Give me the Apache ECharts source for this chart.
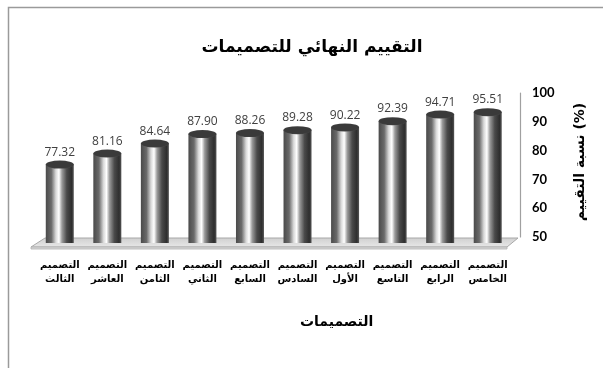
<!DOCTYPE html>
<html><head><meta charset="utf-8">
<script src="https://cdn.jsdelivr.net/npm/echarts@6/dist/echarts.min.js"></script>
<style>html,body{margin:0;padding:0;background:#fff}#c{width:603px;height:368px}</style>
</head><body><div id="c"></div>
<script>
const categories = ['التصميم\nالثالث','التصميم\nالعاشر','التصميم\nالثامن','التصميم\nالثاني','التصميم\nالسابع','التصميم\nالسادس','التصميم\nالأول','التصميم\nالتاسع','التصميم\nالرابع','التصميم\nالخامس'];
const values = [77.32, 81.16, 84.64, 87.90, 88.26, 89.28, 90.22, 92.39, 94.71, 95.51];
const yMin = 50, yMax = 100, yInterval = 10;
const title = 'التقييم النهائي للتصميمات';
const xName = 'التصميمات';
const yName = 'نسبة التقييم (%)';

const chart = echarts.init(document.getElementById('c'), null, {renderer: 'canvas'});
const arabic = '"DejaVu Sans", sans-serif';
const barGrad = new echarts.graphic.LinearGradient(0,0,1,0,[
  {offset:0, color:'#4a4a4a'},
  {offset:0.2, color:'#6a6a6a'},
  {offset:0.36, color:'#d8d8d8'},
  {offset:0.47, color:'#ffffff'},
  {offset:0.58, color:'#9a9a9a'},
  {offset:0.75, color:'#4a4a4a'},
  {offset:0.92, color:'#2e2e2e'},
  {offset:1, color:'#555555'}
]);
const floorGrad = new echarts.graphic.LinearGradient(0,0,0,1,[
  {offset:0, color:'#cfcfcf'},{offset:1, color:'#e8e8e8'}
]);
chart.setOption({
  animation: false,
  title: {
    text: title, left: 307, top: 34, textAlign: 'center',
    textStyle: {fontFamily: arabic, fontSize: 17, fontWeight: 'bold', color: '#000'}
  },
  graphic: [
    {type:'polyline', shape:{points:[[8.5,368],[8.5,7.5],[603,7.5]]}, style:{stroke:'#9a9a9a', lineWidth:1.5, fill:null}, silent:true},
    {type:'polygon', z:0, shape:{points:[[31,247],[507,247],[518,238],[45,238]]}, style:{fill:floorGrad, stroke:'#a8a8a8', lineWidth:1}, silent:true},
    {type:'polygon', z:0, shape:{points:[[31,247],[507,247],[507,249],[31,249]]}, style:{fill:'#d8d8d8', stroke:'#b0b0b0', lineWidth:0.8}, silent:true},
    {type:'text', left: 300, top: 315, style:{text: xName, font:'bold 14px "DejaVu Sans"', fill:'#000', textAlign:'center'}},
    {type:'text', x: 580, y: 162, rotation: Math.PI/2, style:{text: yName, font:'bold 14px "DejaVu Sans"', fill:'#000', textAlign:'center', textVerticalAlign:'middle'}}
  ],
  grid: [
    {left: 36, right: 91.5, top: 99, bottom: 125},
    {left: 36, right: 83, top: 93, bottom: 131}
  ],
  xAxis: [
    {gridIndex:0, type:'category', data: categories,
     axisLine:{show:false}, axisTick:{show:false},
     axisLabel:{margin: 15, fontFamily: arabic, fontWeight:'bold', fontSize: 10, color:'#000', lineHeight: 14, interval:0}},
    {gridIndex:1, type:'category', data: categories, show:false}
  ],
  yAxis: [
    {gridIndex:0, type:'value', min:yMin, max:yMax, interval:yInterval, show:false},
    {gridIndex:1, type:'value', min:yMin, max:yMax, interval:yInterval, position:'right',
     axisLine:{show:true, lineStyle:{color:'#a0a0a0', width:1.2}}, axisTick:{show:false},
     splitLine:{show:false},
     axisLabel:{margin: 12, fontFamily:'Lato, "Open Sans", sans-serif', fontWeight:'bold', fontSize: 13, color:'#000'}}
  ],
  series: [
    {type:'bar', xAxisIndex:0, yAxisIndex:0, data: values, barWidth: 28, z: 2,
     itemStyle:{color: barGrad},
     label:{show:true, position:'top', distance: 6, formatter: p => p.value.toFixed(2),
       fontFamily:'"Open Sans", sans-serif', fontSize: 12, color:'#404040'}},
    {type:'pictorialBar', xAxisIndex:0, yAxisIndex:0, data: values, symbol:'circle', symbolSize:[28,8],
     symbolPosition:'end', symbolOffset:[0,'-50%'], z: 3,
     itemStyle:{color:'#3a3a3a', borderColor:'#e8e8e8', borderWidth:1}},
    {type:'pictorialBar', xAxisIndex:0, yAxisIndex:0, data: values, symbol:'circle', symbolSize:[28,6],
     symbolPosition:'start', symbolOffset:[0,'50%'], z: 1,
     itemStyle:{color:'#555'}}
  ]
});
</script></body></html>
